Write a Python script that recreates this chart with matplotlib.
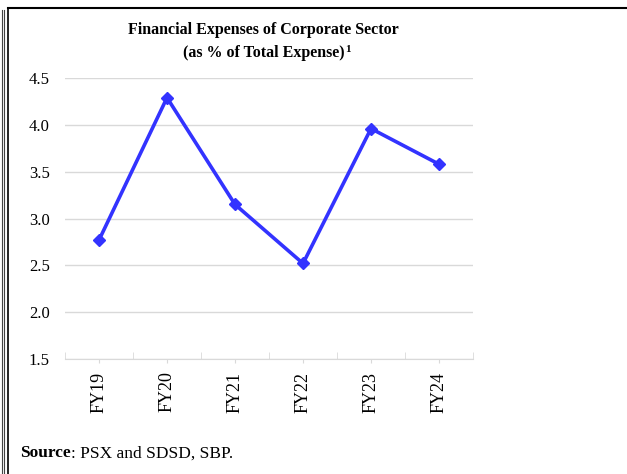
import matplotlib.pyplot as plt
from matplotlib.lines import Line2D

# Data
years = ['FY19', 'FY20', 'FY21', 'FY22', 'FY23', 'FY24']
fin_exp = [2.77, 4.29, 3.15, 2.52, 3.96, 3.58]

plt.rcParams['font.family'] = ['Liberation Serif', 'DejaVu Serif']

fig = plt.figure(figsize=(6.27, 4.74), dpi=100)
ax = fig.add_axes([0.1037, 0.2426, 0.6507, 0.5928])

x = list(range(len(years)))
ax.plot(x, fin_exp, color='#3333FF', linewidth=2.6, marker='D', markersize=6.5, zorder=3)

ax.set_xlim(-0.5, len(years) - 0.5)
ax.set_ylim(1.5, 4.5)
ax.set_yticks([1.5, 2.0, 2.5, 3.0, 3.5, 4.0, 4.5])
ax.set_yticklabels(['1.5', '2.0', '2.5', '3.0', '3.5', '4.0', '4.5'], fontsize=12)
ax.grid(axis='y', color='#D9D9D9', linewidth=1.0)
ax.set_axisbelow(True)

# category labels at centres, small boundary ticks pointing up
ax.set_xticks(x)
ax.set_xticklabels(years, rotation=90, fontsize=13)
ax.set_xticks([i - 0.5 for i in range(len(years) + 1)], minor=True)
ax.tick_params(axis='x', which='major', direction='out', length=3, color='#D9D9D9', pad=6)
ax.tick_params(axis='x', which='minor', direction='in', length=5, color='#D9D9D9')
ax.tick_params(axis='y', length=0, pad=11)

for s in ['top', 'right', 'left']:
    ax.spines[s].set_visible(False)
ax.spines['bottom'].set_color('#D9D9D9')

fig.text(0.42, 0.937, 'Financial Expenses of Corporate Sector', ha='center', va='center',
         fontsize=11.5, fontweight='bold')
t2 = fig.text(0.42, 0.889, '(as % of Total Expense)', ha='center', va='center',
              fontsize=11.5, fontweight='bold')
plt.annotate('1', xy=(1, 1), xycoords=t2, xytext=(0.5, 0), textcoords='offset points',
             va='top', ha='left', fontsize=8, fontweight='bold')

src = fig.text(0.032, 0.044, 'Source', fontsize=12.5, fontweight='bold', va='center')
plt.annotate(': PSX and SDSD, SBP.', xy=(1, 0.5), xycoords=src, va='center', ha='left',
             fontsize=12.5)

# page borders
fig.add_artist(Line2D([0.0025, 0.0025], [0, 0.979], transform=fig.transFigure, color='#444444', lw=0.8))
fig.add_artist(Line2D([0.0065, 0.0065], [0, 0.979], transform=fig.transFigure, color='#444444', lw=0.8))
fig.add_artist(Line2D([0.013, 0.013], [0, 0.983], transform=fig.transFigure, color='black', lw=1.2))
fig.add_artist(Line2D([0.013, 1.0], [0.983, 0.983], transform=fig.transFigure, color='black', lw=1.5))

fig.savefig('out.png', dpi=100)
